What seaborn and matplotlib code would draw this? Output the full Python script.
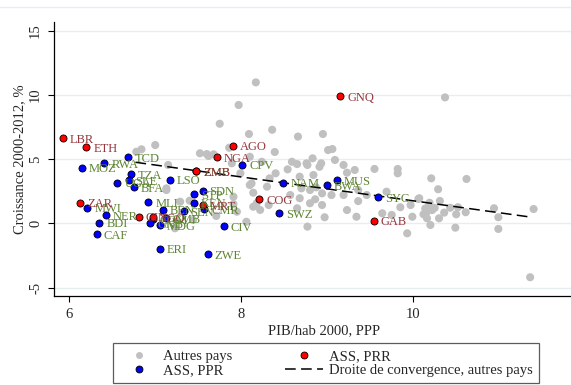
import matplotlib

matplotlib.use("Agg")

import matplotlib.pyplot as plt
import pandas as pd
import seaborn as sns
from matplotlib.lines import Line2D


OUTPUT_PATH = "out.png"

# autres pays (grey)
OTHER_X = [8.17, 7.97, 7.75, 8.36, 10.37, 8.66, 8.95, 9.01, 9.06, 8.39, 8.10, 8.24,
           8.59, 8.65, 8.77, 8.83, 8.93, 9.09, 8.91, 8.54, 8.40, 9.23, 9.32, 9.55,
           9.82, 9.82, 8.33, 8.68, 8.84, 8.12, 8.30, 8.70, 8.80, 8.87, 8.94, 9.19,
           9.36, 9.46, 9.69, 8.68, 8.86, 9.05, 8.14, 8.32, 8.65, 8.94, 9.23, 9.34,
           8.97, 9.75, 8.06, 8.77, 7.71, 7.91, 7.95, 10.21, 10.62, 10.29, 10.07, 10.31,
           10.19, 9.97, 9.85, 10.43, 10.52, 10.22, 10.36, 10.50, 10.61, 10.94, 10.99, 11.40,
           9.64, 9.99, 10.16, 10.30, 10.20, 10.49, 10.99, 9.93, 11.36, 10.16, 10.18, 9.36,
           8.09, 7.00, 6.84, 6.78, 7.52, 7.60, 7.86, 7.13, 7.29, 7.40, 7.91, 7.13,
           8.10, 8.18, 8.22, 7.23, 7.44, 7.62, 7.68, 7.89, 7.99, 7.15, 10.06, 10.14,
           10.25, 10.12, 8.76, 9.19, 8.14, 8.57, 8.80]
OTHER_Y = [10.97, 9.21, 7.75, 7.28, 9.80, 6.75, 6.95, 5.70, 5.78, 5.55, 5.18, 4.79,
           4.79, 4.61, 4.54, 5.06, 4.67, 4.93, 4.40, 4.20, 3.89, 3.94, 4.15, 4.23,
           4.23, 3.89, 3.50, 3.63, 3.76, 3.11, 2.85, 2.72, 2.59, 2.80, 2.33, 2.20,
           2.59, 2.20, 2.46, 1.95, 1.87, 2.20, 1.29, 1.42, 1.17, 1.42, 1.03, 0.51,
           0.47, 0.65, 0.12, -0.26, 0.57, 1.50, 0.90, 3.50, 3.45, 2.65, 1.95, 1.74,
           1.60, 1.42, 1.25, 1.21, 1.25, 1.03, 0.83, 0.70, 0.86, 1.17, 0.47, 1.11,
           0.78, 0.51, 0.39, 0.39, -0.13, -0.34, -0.44, -0.78, -4.20, 0.90, 1.29, 1.73,
           6.95, 6.09, 5.76, 5.57, 5.45, 5.39, 5.88, 2.59, 1.68, 1.76, 2.07, 2.72,
           2.98, 1.56, 1.04, -0.39, 0.26, 5.24, 5.37, 4.67, 3.89, 4.54, 1.89, 1.15,
           1.20, 0.70, 4.67, 4.54, 2.38, 2.20, 1.56]

# ASS, pays riches en ressources (red)
PRR_CODE = ["LBR", "ETH", "ZAR", "GIN", "TGO", "ZMB", "MRT", "NGA", "AGO", "COG", "GNQ", "GAB"]
PRR_X = [5.93, 6.20, 6.13, 6.81, 6.97, 7.48, 7.55, 7.72, 7.90, 8.21, 9.15, 9.54]
PRR_Y = [6.61, 5.91, 1.60, 0.51, 0.47, 4.06, 1.40, 5.16, 6.04, 1.87, 9.91, 0.20]

# ASS, pays pauvres en ressources (blue)
PPR_CODE = ["TCD", "MOZ", "RWA", "TZA", "UGA", "SLE", "BFA", "LSO", "ZMB", "SDN",
            "STP", "KEN", "MLI", "BEN", "SEN", "CMR", "MWI", "NER", "BDI", "CAF",
            "COM", "GNB", "MDG", "GMB", "ERI", "ZWE", "CIV", "CPV", "NAM", "BWA",
            "MUS", "SYC", "SWZ"]
PPR_X = [6.68, 6.15, 6.41, 6.72, 6.56, 6.69, 6.75, 7.17, 7.48, 7.55,
         7.45, 7.45, 6.92, 7.09, 7.33, 7.57, 6.21, 6.43, 6.35, 6.32,
         6.97, 6.94, 7.05, 7.12, 7.05, 7.61, 7.80, 8.01, 8.49, 9.00,
         9.11, 9.59, 8.44]
PPR_Y = [5.14, 4.33, 4.67, 3.81, 3.16, 3.35, 2.82, 3.40, 4.06, 2.54,
         2.28, 1.60, 1.63, 1.06, 0.93, 1.09, 1.21, 0.65, 0.05, -0.86,
         0.31, 0.00, -0.13, 0.41, -1.98, -2.39, -0.20, 4.56, 3.16, 2.96,
         3.37, 2.05, 0.78]

# droite de convergence (autres pays)
LINE_X = [6.77, 11.38]
LINE_Y = [4.75, 0.47]

Y_TICKS = [-5, 0, 5, 10, 15]
X_TICKS = [6, 8, 10]

GREY = "#c0c0c0"
RED_TXT = "#96353b"
GREEN_TXT = "#5d8431"
GRID = "#e6eff0"


def main() -> None:
    sns.set_theme(style="white")
    plt.rcParams["font.family"] = ["Liberation Serif", "DejaVu Serif"]

    others = pd.DataFrame({"x": OTHER_X, "y": OTHER_Y})
    prr = pd.DataFrame({"code": PRR_CODE, "x": PRR_X, "y": PRR_Y})
    ppr = pd.DataFrame({"code": PPR_CODE, "x": PPR_X, "y": PPR_Y})

    fig = plt.figure(figsize=(5.71, 3.85), dpi=100)
    ax = fig.add_axes([54 / 571, 1 - 296 / 385, 1 - 54 / 571, (296 - 22) / 385])
    # faint outer frame line at the very top
    fig.add_artist(Line2D([0, 1], [1 - 7 / 385] * 2, transform=fig.transFigure,
                          color=GRID, lw=1.0))

    for yt in Y_TICKS:
        ax.axhline(yt, color=GRID, lw=1.0, zorder=0)

    sns.scatterplot(data=others, x="x", y="y", color=GREY, s=34, edgecolor="none",
                    ax=ax, zorder=2, legend=False)
    ax.plot(LINE_X, LINE_Y, color="black", lw=1.1, dashes=(7, 3.5), zorder=3)
    sns.scatterplot(data=ppr, x="x", y="y", color="#0000ff", s=26, edgecolor="black",
                    linewidth=0.6, ax=ax, zorder=4, legend=False)
    sns.scatterplot(data=prr, x="x", y="y", color="#ff0000", s=26, edgecolor="black",
                    linewidth=0.6, ax=ax, zorder=4, legend=False)

    for df, col in ((ppr, GREEN_TXT), (prr, RED_TXT)):
        for _, r in df.iterrows():
            ax.annotate(r["code"], (r["x"], r["y"]), xytext=(5, -1.2),
                        textcoords="offset points", va="center", ha="left",
                        fontsize=9, color=col, zorder=5)

    ax.set_xlim(5.823, 11.835)
    ax.set_ylim(-5.66, 15.67)
    ax.set_xticks(X_TICKS)
    ax.set_yticks(Y_TICKS)
    ax.set_xticklabels([str(t) for t in X_TICKS], fontsize=10.5)
    ax.set_yticklabels([str(t) for t in Y_TICKS], fontsize=10.5, rotation=90, va="center")
    ax.tick_params(axis="both", direction="out", length=4.5, width=0.8, color="black",
                   bottom=True, left=True, pad=4)

    for side in ("top", "right"):
        ax.spines[side].set_visible(False)
    for side in ("left", "bottom"):
        ax.spines[side].set_color("black")
        ax.spines[side].set_linewidth(0.9)

    ax.set_xlabel("PIB/hab 2000, PPP", fontsize=10.5)
    ax.set_ylabel("Croissance 2000-2012, %", fontsize=10.5)
    ax.xaxis.set_label_coords(0.522, -0.104)
    ax.yaxis.set_label_coords(-0.054, 0.5)

    handles = [
        Line2D([], [], ls="none", marker="o", markersize=5, color=GREY, markeredgewidth=0),
        Line2D([], [], ls="none", marker="o", markersize=5, markerfacecolor="#0000ff",
               markeredgecolor="black", markeredgewidth=0.6),
        Line2D([], [], ls="none", marker="o", markersize=5, markerfacecolor="#ff0000",
               markeredgecolor="black", markeredgewidth=0.6),
        Line2D([], [], color="black", lw=1.1, dashes=(7, 3.5)),
    ]
    labels = ["Autres pays", "ASS, PPR", "ASS, PRR", "Droite de convergence, autres pays"]
    leg = fig.legend(handles, labels, ncol=2, loc="upper left",
                     bbox_to_anchor=(113 / 571, 1 - 343 / 385), fontsize=10.5,
                     frameon=True, fancybox=False, handlelength=2.6, handletextpad=0.4,
                     columnspacing=3.6, labelspacing=0.05, borderpad=0.45,
                     borderaxespad=0)
    leg.get_frame().set_edgecolor("#333333")
    leg.get_frame().set_linewidth(0.9)

    fig.savefig(OUTPUT_PATH, dpi=100)


if __name__ == "__main__":
    main()
